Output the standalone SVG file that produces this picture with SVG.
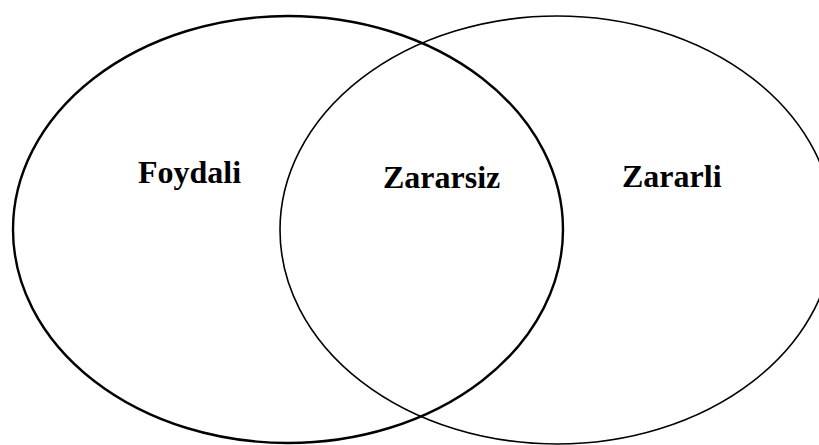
<svg xmlns="http://www.w3.org/2000/svg" width="819" height="445" viewBox="0 0 819 445">
<style>
.set{fill:none;stroke:#000}
.lbl{font-family:"Liberation Serif","Times New Roman",serif;font-weight:bold;font-size:32px;fill:#000}
</style>
<rect width="819" height="445" fill="#fff"/>
<g id="foydali">
<ellipse class="set" cx="288" cy="229.5" rx="275" ry="213.5" stroke-width="2.4"/>
<text class="lbl" x="138" y="183">Foydali</text>
</g>
<g id="zararli">
<ellipse class="set" cx="557" cy="230" rx="277" ry="214" stroke-width="1.6"/>
<text class="lbl" x="622" y="187">Zararli</text>
</g>
<g id="zararsiz">
<text class="lbl" x="383" y="188">Zararsiz</text>
</g>
<g id="connectors"></g>
</svg>
